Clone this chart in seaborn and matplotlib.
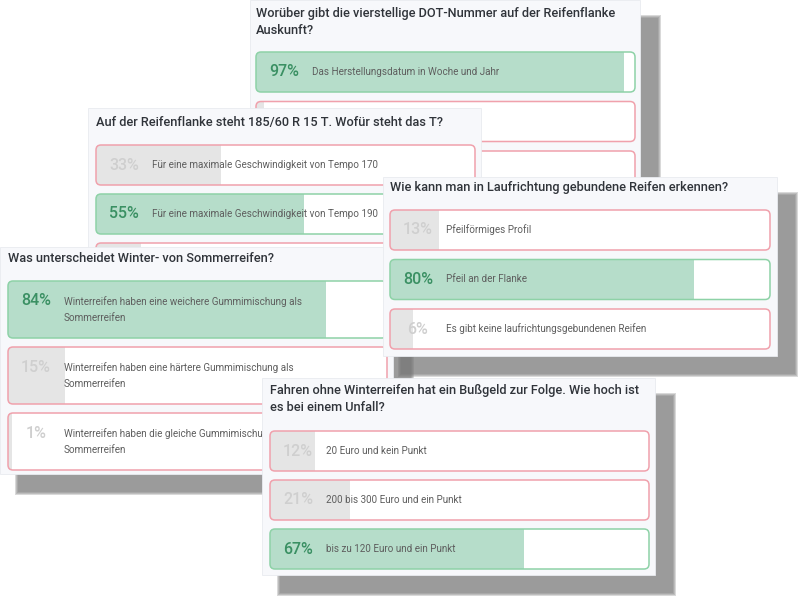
import matplotlib
matplotlib.use("Agg")
import matplotlib.pyplot as plt
import seaborn as sns
from matplotlib.patches import Rectangle, FancyBboxPatch

sns.set_theme(style="white")
plt.rcParams['font.family'] = ['Roboto', 'DejaVu Sans']

# ---------------- data ----------------
q1_title = "Worüber gibt die vierstellige DOT-Nummer auf der Reifenflanke\nAuskunft?"
q1_options = ["Das Herstellungsdatum in Woche und Jahr", "", ""]
q1_pct = [97, 2, 1]
q1_correct = [True, False, False]

q2_title = "Auf der Reifenflanke steht 185/60 R 15 T. Wofür steht das T?"
q2_options = ["Für eine maximale Geschwindigkeit von Tempo 170",
              "Für eine maximale Geschwindigkeit von Tempo 190",
              ""]
q2_pct = [33, 55, 12]
q2_correct = [False, True, False]

q3_title = "Was unterscheidet Winter- von Sommerreifen?"
q3_options = ["Winterreifen haben eine weichere Gummimischung als\nSommerreifen",
              "Winterreifen haben eine härtere Gummimischung als\nSommerreifen",
              "Winterreifen haben die gleiche Gummimischung als\nSommerreifen"]
q3_pct = [84, 15, 1]
q3_correct = [True, False, False]

q4_title = "Wie kann man in Laufrichtung gebundene Reifen erkennen?"
q4_options = ["Pfeilförmiges Profil", "Pfeil an der Flanke",
              "Es gibt keine laufrichtungsgebundenen Reifen"]
q4_pct = [13, 80, 6]
q4_correct = [False, True, False]

q5_title = "Fahren ohne Winterreifen hat ein Bußgeld zur Folge. Wie hoch ist\nes bei einem Unfall?"
q5_options = ["20 Euro und kein Punkt", "200 bis 300 Euro und ein Punkt",
              "bis zu 120 Euro und ein Punkt"]
q5_pct = [12, 21, 67]
q5_correct = [False, False, True]

# ---------------- style ----------------
W, H = 800, 600
CARD_BG = "#F7F8FB"
GREEN_FILL = "#B6DDCA"
GREEN_EDGE = "#8ED2A7"
GREEN_TXT = "#3A9063"
GRAY_FILL = "#E5E5E5"
GRAY_TXT = "#CFCFCF"
PINK_EDGE = "#F0A1AC"
TITLE_C = "#30343A"
OPT_C = "#5E5E5E"

fig = plt.figure(figsize=(8, 6), dpi=100)
fig.patch.set_facecolor("white")


def fig_rect(x0, y0, x1, y1):
    return [x0 / W, 1 - y1 / H, (x1 - x0) / W, (y1 - y0) / H]


def draw_card(z, box, title, title_xy, bars_box, bar_h, options, pct, correct,
              shadow=True, two_line=False, covered=()):
    x0, y0, x1, y1 = box
    cax = fig.add_axes([0, 0, 1, 1])
    cax.set_xlim(0, W)
    cax.set_ylim(H, 0)
    cax.set_axis_off()
    cax.set_zorder(z)
    if shadow:
        for k in range(4):
            e = 3 - k
            cax.add_patch(Rectangle((x0 + 18 - e, y0 + 18 - e), (x1 - x0) + 2 * e,
                                    (y1 - y0) + 2 * e, fc="#777777", ec="none",
                                    alpha=0.28, zorder=1))
    cax.add_patch(Rectangle((x0, y0), x1 - x0, y1 - y0, fc=CARD_BG, ec="#E9EBF0",
                            lw=0.6, zorder=2))
    # title: y given is the baseline of the last line
    cax.text(title_xy[0], title_xy[1], title, fontsize=9.2, weight="medium",
             color=TITLE_C, va="baseline", ha="left", linespacing=1.42, zorder=3)

    bx0, by0, bx1, by1 = bars_box
    n = len(pct)
    pitch = (by1 - by0 - bar_h) / (n - 1)
    w = bar_h / pitch
    bax = fig.add_axes(fig_rect(bx0, by0, bx1, by1))
    bax.set_zorder(z + 0.5)
    ids = [str(i) for i in range(n)]
    pal = {ids[i]: (GREEN_FILL if correct[i] else GRAY_FILL) for i in range(n)}
    sns.barplot(x=pct, y=ids, hue=ids, palette=pal, orient="h", width=w,
                saturation=1, legend=False, ax=bax, linewidth=0)
    bax.set_xlim(0, 100)
    bax.set_ylim(n - 1 + w / 2, -w / 2)
    bax.set_axis_off()

    sx = (bx1 - bx0) / 100.0
    sy = pitch
    r = 5.0
    bars = list(bax.patches)
    for i in range(n):
        edge = GREEN_EDGE if correct[i] else PINK_EDGE
        back = FancyBboxPatch((0, i - w / 2), 100, w,
                              boxstyle=f"round,pad=0,rounding_size={r / sx}",
                              mutation_aspect=sx / sy, fc="white", ec="none",
                              zorder=0.5, clip_on=False)
        bax.add_patch(back)
        frame = FancyBboxPatch((0, i - w / 2), 100, w,
                               boxstyle=f"round,pad=0,rounding_size={r / sx}",
                               mutation_aspect=sx / sy, fc="none", ec=edge,
                               lw=1.1, zorder=4, clip_on=False)
        bax.add_patch(frame)
    for b in bars:
        yc = b.get_y() + b.get_height() / 2
        i = int(round(yc))
        b.set_zorder(1)
        clip = FancyBboxPatch((0, i - w / 2), 100, w,
                              boxstyle=f"round,pad=0,rounding_size={r / sx}",
                              mutation_aspect=sx / sy, transform=bax.transData)
        b.set_clip_path(clip)

    for i in range(n):
        if i in covered:
            continue  # row text lies fully under the next card
        dy = 8.5 if two_line else 0
        bax.annotate(f"{pct[i]}%", xy=(0, i), xytext=(28, dy),
                     textcoords="offset pixels", ha="center", va="center",
                     fontsize=11.5, weight="medium",
                     color=GREEN_TXT if correct[i] else GRAY_TXT,
                     annotation_clip=False, zorder=5)
        if options[i]:
            bax.annotate(options[i], xy=(0, i), xytext=(56, 0),
                         textcoords="offset pixels", ha="left", va="center",
                         fontsize=7.1, color=OPT_C, linespacing=1.75,
                         annotation_clip=False, zorder=5)


draw_card(1, (250, 0, 640, 205), q1_title, (256, 34), (256, 52, 635, 191), 40,
          q1_options, q1_pct, q1_correct, covered=(1, 2))
draw_card(2, (88, 108, 481, 292), q2_title, (96, 126), (96, 145, 475, 283), 40,
          q2_options, q2_pct, q2_correct, shadow=False, covered=(2,))
draw_card(3, (0, 247, 393, 474), q3_title, (8, 262), (8, 281, 387, 470), 57,
          q3_options, q3_pct, q3_correct, two_line=True)
draw_card(4, (383, 177, 777, 356), q4_title, (390, 191), (390, 210, 770, 349), 40,
          q4_options, q4_pct, q4_correct)
draw_card(5, (262, 378, 655, 575), q5_title, (270, 411), (270, 431, 649, 569), 40,
          q5_options, q5_pct, q5_correct)

fig.savefig("out.png", dpi=100)
